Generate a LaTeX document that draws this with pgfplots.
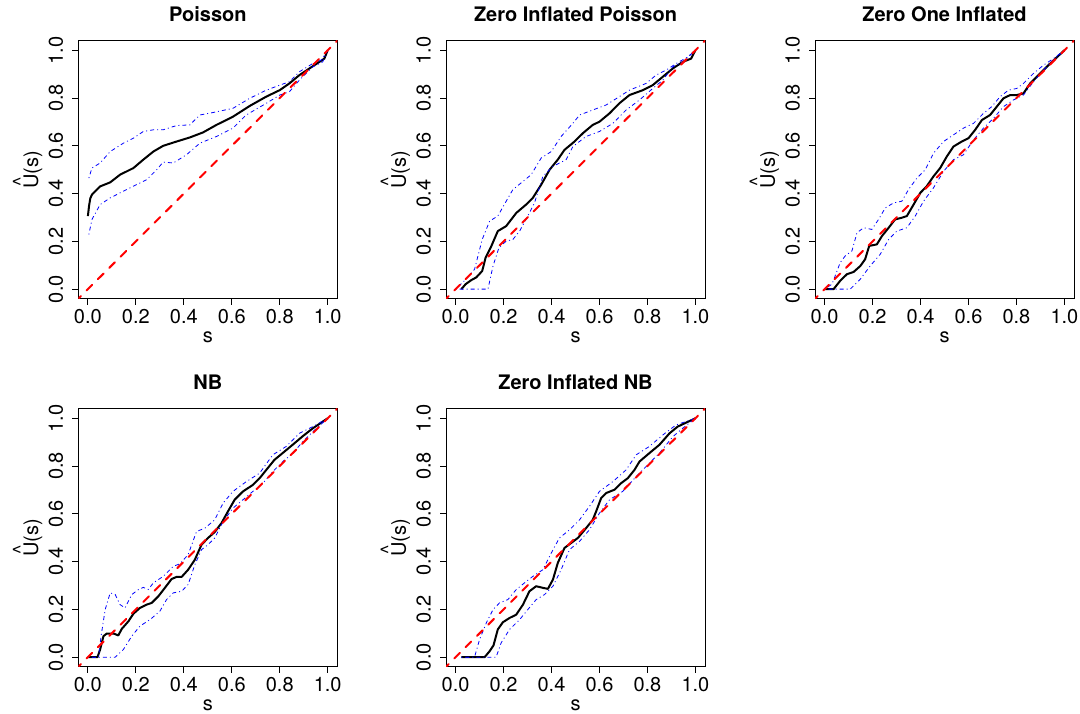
\documentclass[border=0pt]{standalone}
\usepackage{fontspec}
\setmainfont{TeX Gyre Heros}
\usepackage{pgfplots}
\pgfplotsset{compat=1.18}
\definecolor{rblue}{RGB}{0,0,255}
\definecolor{rred}{RGB}{255,0,0}
\newcommand{\fs}{\fontsize{20bp}{24bp}\selectfont}
\newcommand{\Uhat}{\leavevmode\ooalign{U\cr\hidewidth\raisebox{0.55em}{\textasciicircum}\hidewidth\cr}(s)}
\newcommand{\ry}[1]{\rotatebox{90}{#1}}
\pgfplotsset{
  rpanel/.style={
    scale only axis, width=259bp, height=258bp,
    anchor=north west,
    xmin=-0.04, xmax=1.04, ymin=-0.04, ymax=1.04,
    xtick={0,0.2,0.4,0.6,0.8,1}, xticklabels={0.0,0.2,0.4,0.6,0.8,1.0},
    ytick={0,0.2,0.4,0.6,0.8,1}, yticklabels={\ry{0.0},\ry{0.2},\ry{0.4},\ry{0.6},\ry{0.8},\ry{1.0}},
    tick align=outside, xtick pos=bottom, ytick pos=left,
    major tick length=6bp,
    tick style={black, line width=0.8bp},
    axis line style={line width=0.8bp},
    tick label style={font=\fs},
    xticklabel style={anchor=north, inner sep=0pt, yshift=-4bp},
    yticklabel style={anchor=east, inner sep=0pt, xshift=-9bp},
    xlabel={s}, ylabel={\Uhat},
    xlabel style={font=\fs, at={(axis description cs:0.5,-0.17)}, anchor=base},
    ylabel style={font=\fs, at={(axis description cs:-0.155,0.5)}, anchor=base},
    title style={font=\fs\bfseries, at={(axis description cs:0.5,1.05)}, anchor=base},
    clip=true,
  },
  bl/.style={black, line width=2bp, line join=round},
  bu/.style={rblue, line width=0.8bp, dash pattern=on 1bp off 3bp on 4bp off 3bp},
  rd/.style={rred, line width=2bp, line cap=round, dash pattern=on 8bp off 8bp},
}
\begin{document}
\begin{tikzpicture}
\useasboundingbox (0,0) rectangle (1080bp,-714bp);
% ---------- Poisson
\begin{axis}[rpanel, at={(78.3bp,-40.7bp)}, title={Poisson}]
\addplot[bl] coordinates {(0,0.306)(0.005,0.35)(0.01,0.38)(0.017,0.396)(0.051,0.43)(0.093,0.447)(0.134,0.479)(0.19,0.507)(0.231,0.542)(0.273,0.576)(0.314,0.6)(0.37,0.618)(0.425,0.635)(0.48,0.656)(0.536,0.6875)(0.605,0.722)(0.675,0.767)(0.744,0.806)(0.8,0.833)(0.84,0.861)(0.882,0.896)(0.924,0.924)(0.965,0.951)(0.986,0.965)(1,1)};
\addplot[bu] coordinates {(0.004,0.465)(0.017,0.507)(0.051,0.528)(0.093,0.576)(0.148,0.611)(0.19,0.632)(0.231,0.66)(0.273,0.667)(0.314,0.667)(0.37,0.685)(0.425,0.6875)(0.467,0.729)(0.52,0.739)(0.605,0.757)(0.675,0.799)(0.744,0.833)(0.8,0.854)(0.84,0.868)(0.882,0.91)(0.937,0.944)(0.972,0.958)(1,1)};
\addplot[bu] coordinates {(0.004,0.229)(0.017,0.292)(0.051,0.354)(0.093,0.382)(0.148,0.41)(0.203,0.4375)(0.245,0.458)(0.287,0.5)(0.314,0.532)(0.356,0.528)(0.411,0.5625)(0.467,0.611)(0.536,0.639)(0.605,0.674)(0.66,0.729)(0.744,0.778)(0.8,0.8125)(0.84,0.826)(0.882,0.875)(0.937,0.93)(0.979,0.951)(1,1)};
\addplot[rd] coordinates {(-0.1,-0.1)(1.1,1.1)};
\end{axis}
% ---------- Zero Inflated Poisson
\begin{axis}[rpanel, at={(446bp,-40.7bp)}, title={Zero Inflated Poisson}]
\addplot[bl] coordinates {(0.024,0)(0.042,0.021)(0.065,0.0375)(0.086,0.049)(0.111,0.076)(0.125,0.132)(0.149,0.18)(0.176,0.243)(0.211,0.264)(0.253,0.319)(0.294,0.354)(0.322,0.382)(0.357,0.4375)(0.392,0.5)(0.426,0.542)(0.454,0.583)(0.496,0.618)(0.531,0.653)(0.572,0.6875)(0.6,0.701)(0.642,0.736)(0.683,0.778)(0.725,0.8125)(0.781,0.833)(0.822,0.854)(0.864,0.889)(0.906,0.924)(0.947,0.951)(0.982,0.965)(1,1)};
\addplot[bu] coordinates {(0,0)(0.044,0.042)(0.079,0.083)(0.111,0.208)(0.142,0.285)(0.176,0.306)(0.211,0.368)(0.239,0.417)(0.281,0.451)(0.315,0.479)(0.357,0.549)(0.399,0.576)(0.44,0.639)(0.489,0.694)(0.517,0.729)(0.572,0.75)(0.628,0.771)(0.683,0.806)(0.725,0.833)(0.794,0.861)(0.836,0.896)(0.878,0.917)(0.919,0.944)(0.968,0.972)(1,1)};
\addplot[bu] coordinates {(0,0)(0.135,0)(0.156,0.097)(0.181,0.174)(0.211,0.201)(0.239,0.208)(0.267,0.243)(0.301,0.306)(0.329,0.361)(0.364,0.472)(0.406,0.514)(0.461,0.542)(0.489,0.597)(0.544,0.639)(0.6,0.66)(0.656,0.694)(0.711,0.75)(0.767,0.792)(0.822,0.84)(0.864,0.875)(0.906,0.931)(0.947,0.951)(1,1)};
\addplot[rd] coordinates {(-0.1,-0.1)(1.1,1.1)};
\end{axis}
% ---------- Zero One Inflated
\begin{axis}[rpanel, at={(815bp,-40.7bp)}, title={Zero One Inflated}]
\addplot[bl] coordinates {(0,0)(0.0375,0)(0.065,0.035)(0.093,0.0625)(0.121,0.072)(0.149,0.097)(0.169,0.125)(0.186,0.181)(0.218,0.1875)(0.239,0.222)(0.267,0.257)(0.294,0.292)(0.322,0.299)(0.343,0.306)(0.371,0.354)(0.399,0.403)(0.426,0.431)(0.454,0.472)(0.482,0.507)(0.51,0.556)(0.5375,0.597)(0.572,0.618)(0.6,0.632)(0.628,0.667)(0.656,0.708)(0.69,0.729)(0.718,0.764)(0.746,0.799)(0.774,0.8125)(0.801,0.8125)(0.829,0.819)(0.857,0.861)(0.899,0.903)(0.94,0.944)(1,1)};
\addplot[bu] coordinates {(0,0)(0.031,0.021)(0.065,0.111)(0.086,0.139)(0.114,0.16)(0.135,0.236)(0.1625,0.257)(0.197,0.25)(0.225,0.292)(0.253,0.34)(0.2875,0.361)(0.322,0.368)(0.35,0.417)(0.385,0.465)(0.42,0.5)(0.454,0.569)(0.496,0.618)(0.5375,0.646)(0.579,0.674)(0.621,0.694)(0.6625,0.736)(0.697,0.764)(0.732,0.806)(0.767,0.833)(0.801,0.84)(0.829,0.861)(0.871,0.903)(0.9125,0.9375)(0.954,0.965)(1,1)};
\addplot[bu] coordinates {(0,0)(0.107,0)(0.149,0.042)(0.19,0.097)(0.232,0.146)(0.267,0.208)(0.301,0.243)(0.343,0.257)(0.378,0.306)(0.4125,0.368)(0.454,0.424)(0.496,0.493)(0.5375,0.542)(0.579,0.5625)(0.621,0.625)(0.6625,0.674)(0.704,0.715)(0.746,0.764)(0.7875,0.792)(0.829,0.8125)(0.871,0.868)(0.9125,0.917)(0.954,0.958)(1,1)};
\addplot[rd] coordinates {(-0.1,-0.1)(1.1,1.1)};
\end{axis}
% ---------- NB
\begin{axis}[rpanel, at={(78.3bp,-408.7bp)}, title={NB}]
\addplot[bl] coordinates {(0,0)(0.04,0)(0.051,0.032)(0.065,0.088)(0.079,0.099)(0.107,0.099)(0.127,0.091)(0.141,0.118)(0.169,0.15)(0.19,0.182)(0.217,0.206)(0.245,0.22)(0.266,0.227)(0.294,0.255)(0.321,0.29)(0.349,0.327)(0.37,0.336)(0.391,0.336)(0.418,0.366)(0.446,0.408)(0.474,0.471)(0.501,0.499)(0.529,0.524)(0.557,0.561)(0.584,0.61)(0.612,0.659)(0.647,0.694)(0.688,0.721)(0.716,0.749)(0.744,0.784)(0.778,0.826)(0.813,0.855)(0.855,0.89)(0.896,0.925)(0.938,0.958)(1,1)};
\addplot[bu] coordinates {(0,0)(0.044,0)(0.055,0.088)(0.072,0.199)(0.093,0.269)(0.114,0.262)(0.134,0.22)(0.155,0.206)(0.183,0.262)(0.211,0.283)(0.231,0.292)(0.252,0.283)(0.273,0.311)(0.314,0.338)(0.356,0.38)(0.384,0.391)(0.418,0.429)(0.453,0.526)(0.488,0.54)(0.529,0.575)(0.564,0.645)(0.605,0.694)(0.661,0.735)(0.716,0.77)(0.771,0.847)(0.827,0.882)(0.882,0.937)(0.938,0.965)(1,1)};
\addplot[bu] coordinates {(0,0)(0.114,0)(0.148,0.032)(0.183,0.088)(0.217,0.13)(0.259,0.157)(0.3,0.192)(0.328,0.241)(0.356,0.269)(0.391,0.276)(0.418,0.304)(0.446,0.387)(0.474,0.45)(0.501,0.471)(0.529,0.499)(0.564,0.568)(0.605,0.624)(0.647,0.659)(0.688,0.694)(0.73,0.728)(0.771,0.777)(0.813,0.819)(0.855,0.854)(0.896,0.902)(0.938,0.944)(1,1)};
\addplot[rd] coordinates {(-0.1,-0.1)(1.1,1.1)};
\end{axis}
% ---------- Zero Inflated NB
\begin{axis}[rpanel, at={(446bp,-408.7bp)}, title={Zero Inflated NB}]
\addplot[bl] coordinates {(0.024,0)(0.121,0)(0.142,0.025)(0.158,0.049)(0.176,0.116)(0.197,0.146)(0.225,0.164)(0.253,0.178)(0.281,0.22)(0.308,0.276)(0.336,0.297)(0.364,0.29)(0.385,0.286)(0.406,0.325)(0.426,0.394)(0.454,0.457)(0.482,0.478)(0.51,0.499)(0.544,0.54)(0.572,0.575)(0.586,0.61)(0.607,0.666)(0.628,0.687)(0.6625,0.701)(0.69,0.728)(0.718,0.749)(0.746,0.784)(0.767,0.819)(0.808,0.854)(0.85,0.889)(0.892,0.937)(0.926,0.965)(1,1)};
\addplot[bu] coordinates {(0.024,0)(0.079,0)(0.1,0.074)(0.128,0.143)(0.156,0.199)(0.183,0.227)(0.218,0.241)(0.253,0.283)(0.2875,0.311)(0.322,0.338)(0.364,0.366)(0.399,0.436)(0.433,0.499)(0.475,0.533)(0.517,0.575)(0.558,0.631)(0.6,0.694)(0.656,0.735)(0.711,0.784)(0.753,0.847)(0.808,0.882)(0.864,0.93)(0.919,0.972)(1,1)};
\addplot[bu] coordinates {(0.024,0)(0.169,0)(0.19,0.06)(0.225,0.116)(0.267,0.157)(0.301,0.199)(0.336,0.241)(0.371,0.262)(0.406,0.297)(0.44,0.366)(0.475,0.45)(0.517,0.485)(0.558,0.533)(0.6,0.603)(0.642,0.659)(0.697,0.694)(0.753,0.756)(0.808,0.812)(0.85,0.854)(0.906,0.923)(0.947,0.958)(1,1)};
\addplot[rd] coordinates {(-0.1,-0.1)(1.1,1.1)};
\end{axis}
\end{tikzpicture}
\end{document}
